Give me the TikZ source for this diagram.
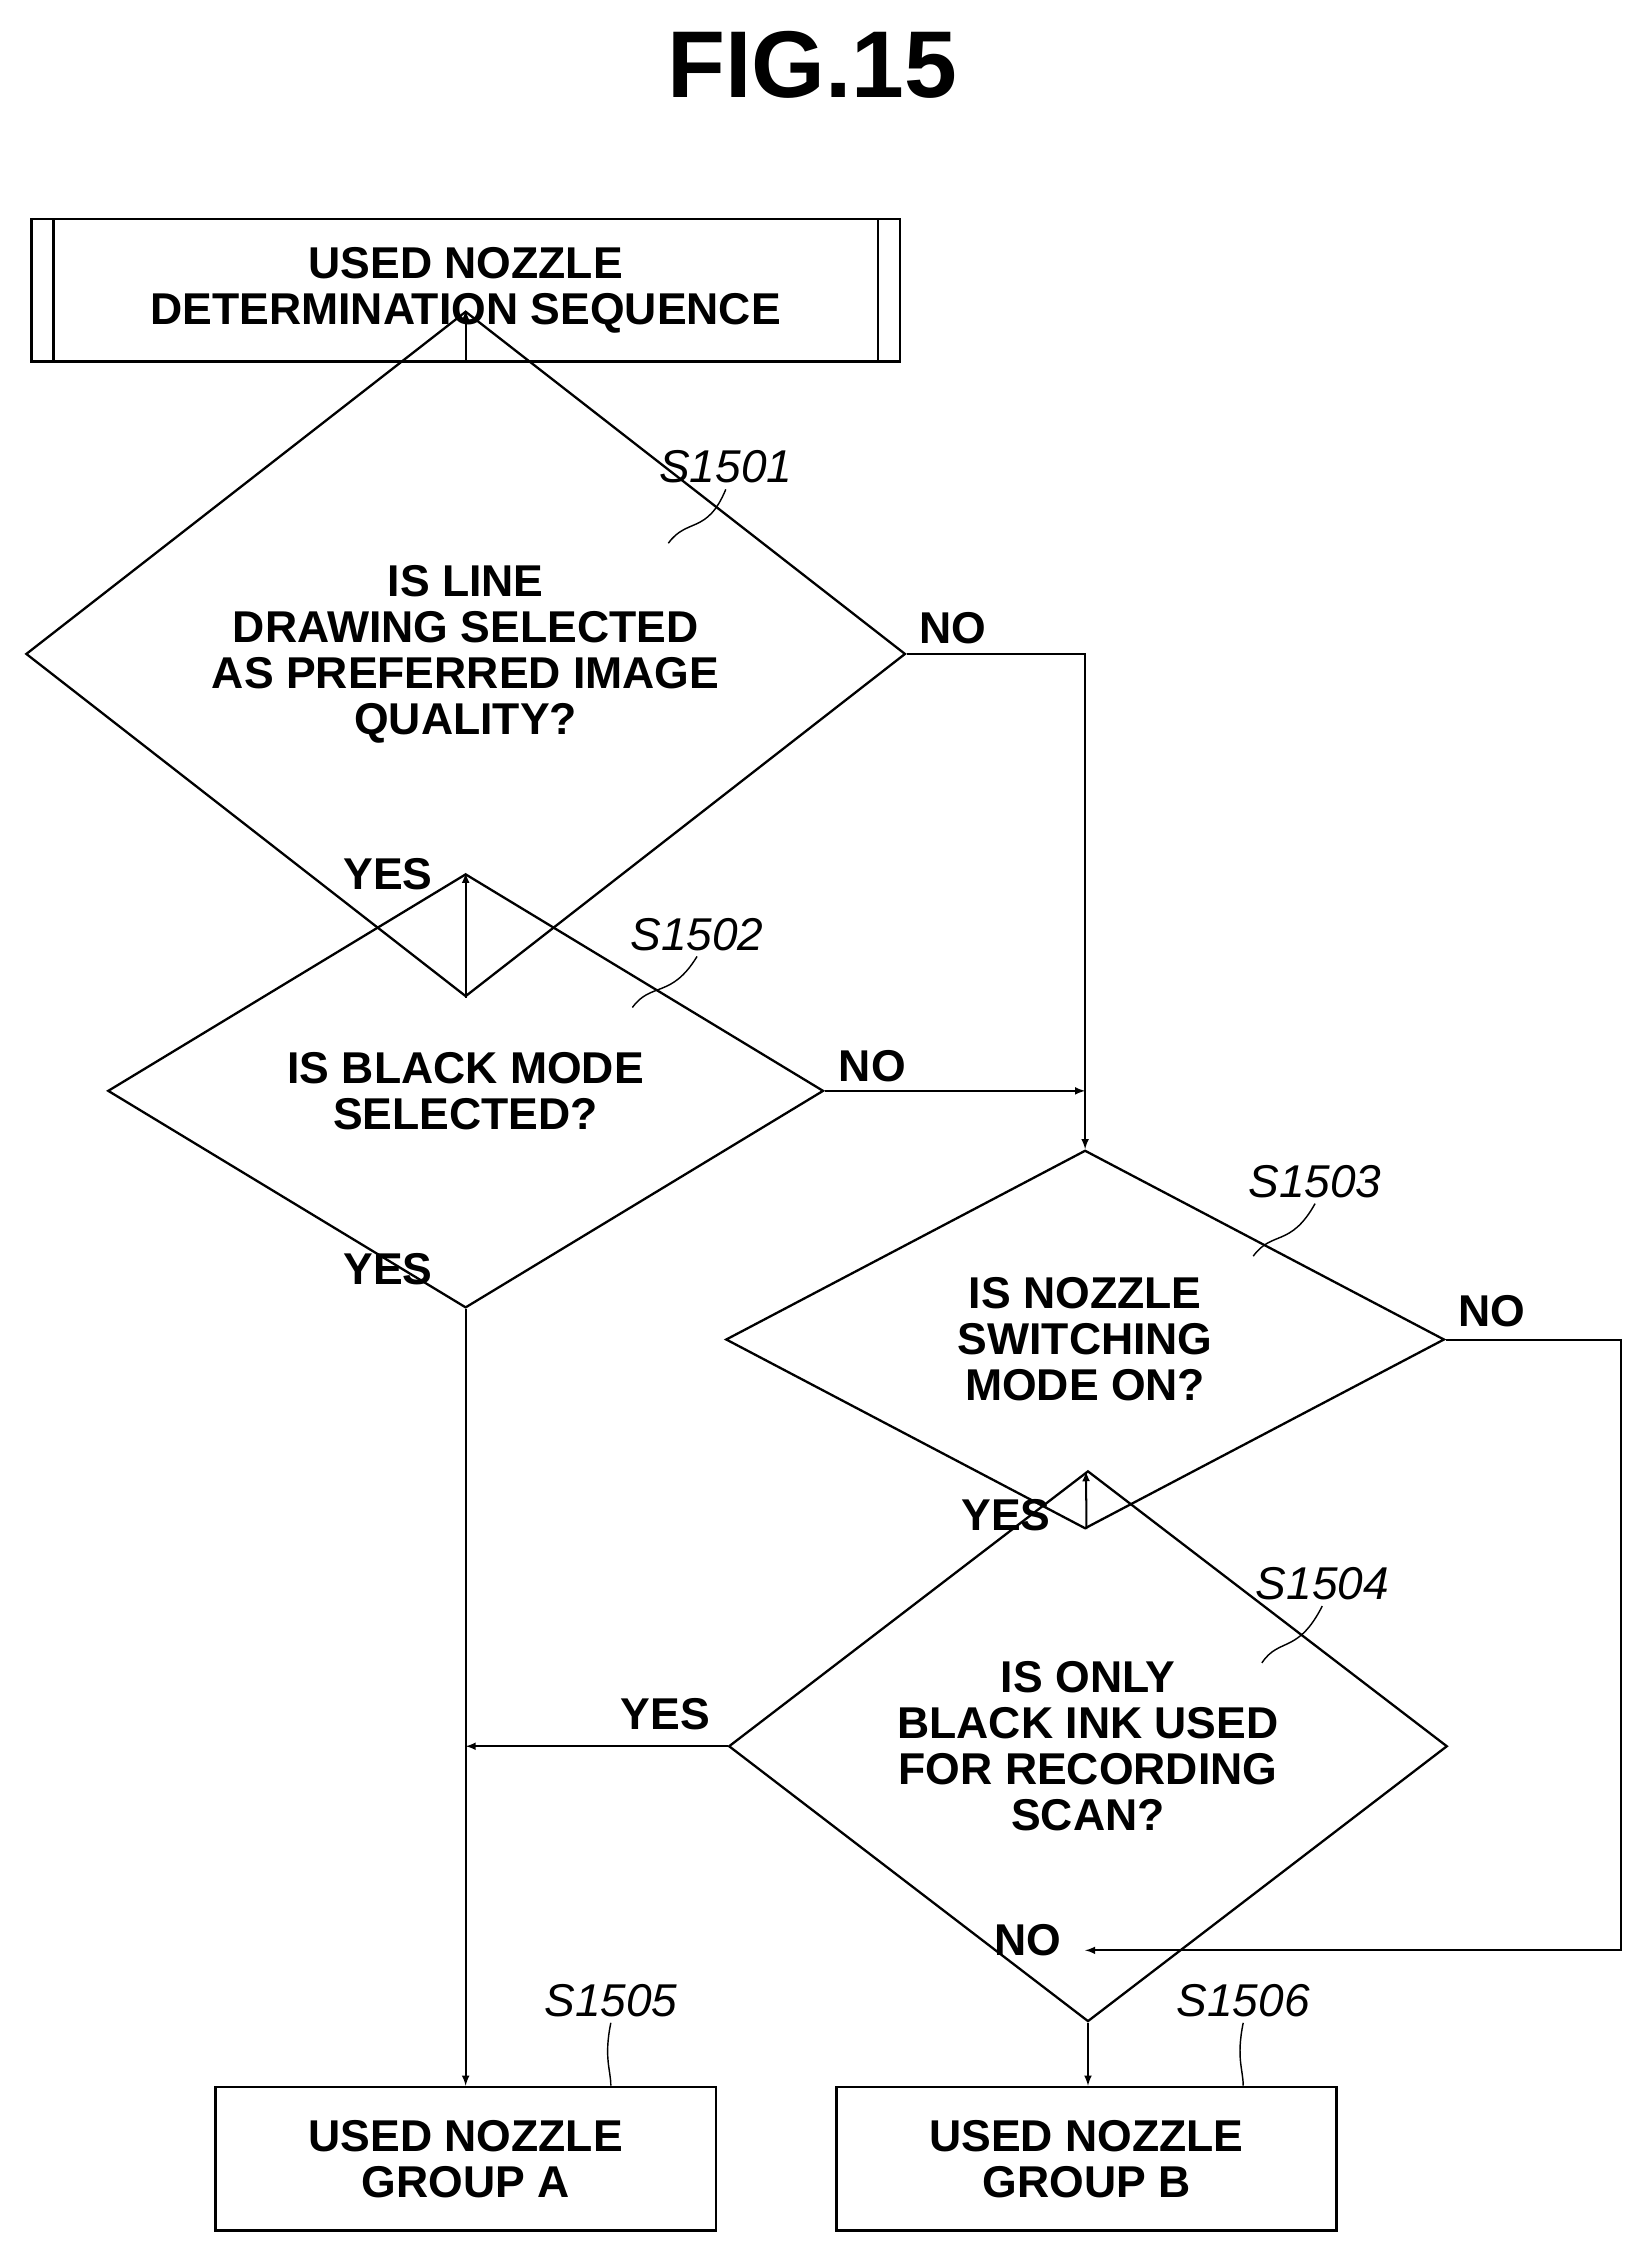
\documentclass[tikz,border=0pt]{standalone}
\usepackage{fontspec}
\setmainfont{Liberation Sans}
\usetikzlibrary{shapes.geometric,calc}
\begin{document}
\begin{tikzpicture}[x=1pt,y=-1pt,>=latex,line width=1.6pt]
 \tikzstyle{every node} = [font=\fontsize{31}{32}\selectfont\bfseries]
 \tikzstyle{decision} = [draw,diamond,inner sep=0,align=center]
 \tikzstyle{procbox} = [draw,rectangle,inner sep=0,align=center,minimum width=348,minimum height=100]
 \tikzstyle{steplbl} = [font=\fontsize{32}{32}\selectfont\itshape]
 \tikzstyle{flow} = [->,line width=1.4pt]
 \useasboundingbox (0,0) rectangle (1145,1569);
 \node[font=\fontsize{66}{66}\selectfont\bfseries] (title) at (565,45) {FIG.15};

 % start of sequence
 \node[procbox,minimum width=604,minimum height=99] (start) at (324,202) {USED NOZZLE\\DETERMINATION SEQUENCE};
 \draw ($(start.north west)+(16,0)$) -- ($(start.south west)+(16,0)$);
 \draw ($(start.north east)+(-16,0)$) -- ($(start.south east)+(-16,0)$);

 % decisions
 \node[decision,minimum width=612,minimum height=265] (d1) at (324,455) {IS LINE\\DRAWING SELECTED\\AS PREFERRED IMAGE\\QUALITY?};
 \node[decision,minimum width=498,minimum height=203] (d2) at (324,759) {IS BLACK MODE\\SELECTED?};
 \node[decision,minimum width=500,minimum height=203] (d3) at (755,932) {IS NOZZLE\\SWITCHING\\MODE ON?};
 \node[decision,minimum width=500,minimum height=220] (d4) at (757,1215) {IS ONLY\\BLACK INK USED\\FOR RECORDING\\SCAN?};

 % results
 \node[procbox] (ga) at (324,1502) {USED NOZZLE\\GROUP A};
 \node[procbox] (gb) at (756,1502) {USED NOZZLE\\GROUP B};

 % step labels
 \node[steplbl] (l1) at (505,325) {S1501};
 \node[steplbl] (l2) at (485,650) {S1502};
 \node[steplbl] (l3) at (915,822) {S1503};
 \node[steplbl] (l4) at (920,1102) {S1504};
 \node[steplbl] (l5) at (425,1392) {S1505};
 \node[steplbl] (l6) at (865,1392) {S1506};
 \draw[line width=1pt] (465,378) .. controls (478,360) and (492,372) .. (l1.south);
 \draw[line width=1pt] (440,701) .. controls (453,683) and (467,695) .. (l2.south);
 \draw[line width=1pt] (872,874) .. controls (885,856) and (898,868) .. (l3.south);
 \draw[line width=1pt] (878,1157) .. controls (890,1139) and (903,1151) .. (l4.south);
 \draw[line width=1pt] (ga.north -| 425,0) .. controls (425,1440) and (420,1432) .. (l5.south);
 \draw[line width=1pt] (gb.north -| 865,0) .. controls (865,1440) and (860,1432) .. (l6.south);

 % connectors
 \coordinate (n1) at (755,455);
 \coordinate (n3) at (1128,932);
 \coordinate (m4) at (755,1357);
 \coordinate (y4) at (324,1215);
 \draw[flow] (start) -- (d1);
 \draw[flow] (d1) -- (d2);
 \draw[flow] (d1.east) -- (n1) -- (d3.north);
 \draw[flow] (d2.east) -- (d2.east -| n1);
 \draw[flow] (d2.south) -- (ga.north);
 \draw[flow] (d3) -- (d4);
 \draw[flow] (d3.east) -- (n3) |- (m4);
 \draw[flow] (d4.west) -- (y4);
 \draw[flow] (d4.south) -- (gb.north -| d4.south);

 % branch labels
 \node (no1) at (663,437) {NO};
 \node (yes1) at (270,608) {YES};
 \node (no2) at (607,742) {NO};
 \node (yes2) at (270,883) {YES};
 \node (no3) at (1038,912) {NO};
 \node (yes3) at (700,1054) {YES};
 \node (yes4) at (463,1193) {YES};
 \node (no4) at (715,1350) {NO};
\end{tikzpicture}
\end{document}
